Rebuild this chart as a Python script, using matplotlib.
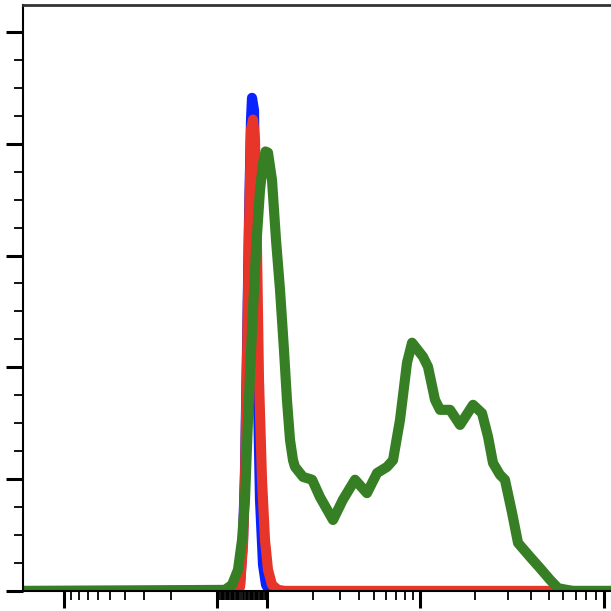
import matplotlib
matplotlib.use('Agg')
import matplotlib.pyplot as plt
import numpy as np

# 数据 (荧光强度, 相对计数)
blue_x = [-1670, -28, -8, 4, 12, 20, 28, 36, 40, 48, 56, 64, 72, 84, 96, 104.6, 10911]
blue_y = [0, 0, 1.1, 9.1, 21.6, 43.1, 66.4, 84.3, 88.2, 86.0, 61.0, 34.2, 16.3, 4.7, 1.1, 0, 0]

red_x = [-1670, -28, -8, 4, 12, 20, 28, 36, 44, 52, 60, 68, 80, 92, 101.5, 107.8, 118, 131, 10911]
red_y = [0, 0, 0.7, 8.2, 19.9, 41.3, 64.6, 82.5, 84.3, 80.7, 61.0, 37.7, 19.9, 9.1, 3.8, 1.1, 0.2, 0, 0]

green_x = [-1670, -68, -40, -16, 0, 12, 24, 40, 56, 72, 84, 94, 101.5, 107.8, 114.5, 121.6,
           129.1, 135, 141.4, 147.9, 152.4, 172, 197.2, 221.9, 270, 313, 376, 450, 524,
           609, 666, 740, 822, 887, 1038, 1105, 1206, 1284, 1456, 1650, 1942, 2172,
           2342, 2492, 2717, 2894, 3163, 3409, 3963, 4487, 5090, 5627, 6780, 10911]
green_y = [0, 0.2, 1.1, 3.8, 9.1, 16.3, 30.6, 46.7, 61.0, 71.7, 76.5, 78.6, 78.4, 73.5, 62.8, 53.9,
           43.1, 34.2, 27.0, 23.4, 22.2, 20.4, 19.9, 16.8, 12.7, 16.3, 19.9, 17.5, 21.1,
           22.2, 23.4, 30.6, 40.8, 44.4, 41.9, 40.1, 34.2, 32.4, 32.4, 29.7, 33.3, 31.8,
           27.6, 22.9, 20.8, 19.9, 14.0, 8.6, 6.1, 4.1, 2.0, 0.5, 0, 0]

x_major = [-1000, -100, 100, 1000, 10000]
x_minor = ([-k * 100 for k in range(2, 10)] + [k * 100 for k in range(2, 10)] +
           [k * 1000 for k in range(2, 10)])
x_inner = [k * 5 for k in range(-19, 20) if k != 0]


# 类似 logicle 的坐标变换
def fwd(x):
    x = np.asarray(x, dtype=float)
    a = np.abs(x)
    p = np.where(a <= 100, a * 0.25,
                 np.where(a <= 1000, 25 + 153 * np.log10(np.maximum(a, 100) / 100),
                          178 + 184 * np.log10(np.maximum(a, 1000) / 1000)))
    return np.sign(x) * p


def inv(p):
    p = np.asarray(p, dtype=float)
    b = np.abs(p)
    v = np.where(b <= 25, b * 4,
                 np.where(b <= 178, 100 * 10 ** ((np.minimum(b, 178) - 25) / 153),
                          1000 * 10 ** ((np.maximum(b, 178) - 178) / 184)))
    return np.sign(p) * v


fig = plt.figure(figsize=(6.11, 6.11), dpi=100)
ax = fig.add_axes([23 / 611, 20 / 611, 588 / 611, 586 / 611])
ax.set_xscale('function', functions=(fwd, inv))

ax.plot(blue_x, blue_y, color='#0a22ff', lw=7.3, solid_joinstyle='round', solid_capstyle='round')
ax.plot(red_x, red_y, color='#e8352a', lw=7.3, solid_joinstyle='round', solid_capstyle='round')
ax.plot(green_x, green_y, color='#367f24', lw=7.3, solid_joinstyle='round', solid_capstyle='round')

ax.set_xlim(-1670, 10911)
ax.set_ylim(0, 104.8)

ax.set_xticks(x_major)
ax.set_xticks(x_minor + x_inner, minor=True)
ax.set_yticks(np.arange(0, 101, 20))
ax.set_yticks(np.arange(0, 101, 5), minor=True)
ax.set_xticklabels([])
ax.set_yticklabels([])
ax.set_xticklabels([], minor=True)
ax.set_yticklabels([], minor=True)

ax.tick_params(which='major', direction='out', length=12, width=2.2, color='black')
ax.tick_params(which='minor', direction='out', length=6.5, width=1.3, color='black')

ax.spines['right'].set_visible(False)
ax.spines['left'].set_linewidth(1.5)
ax.spines['bottom'].set_linewidth(1.5)
ax.spines['top'].set_linewidth(2)
ax.spines['top'].set_color('#333333')

plt.savefig('out.png', dpi=100)
